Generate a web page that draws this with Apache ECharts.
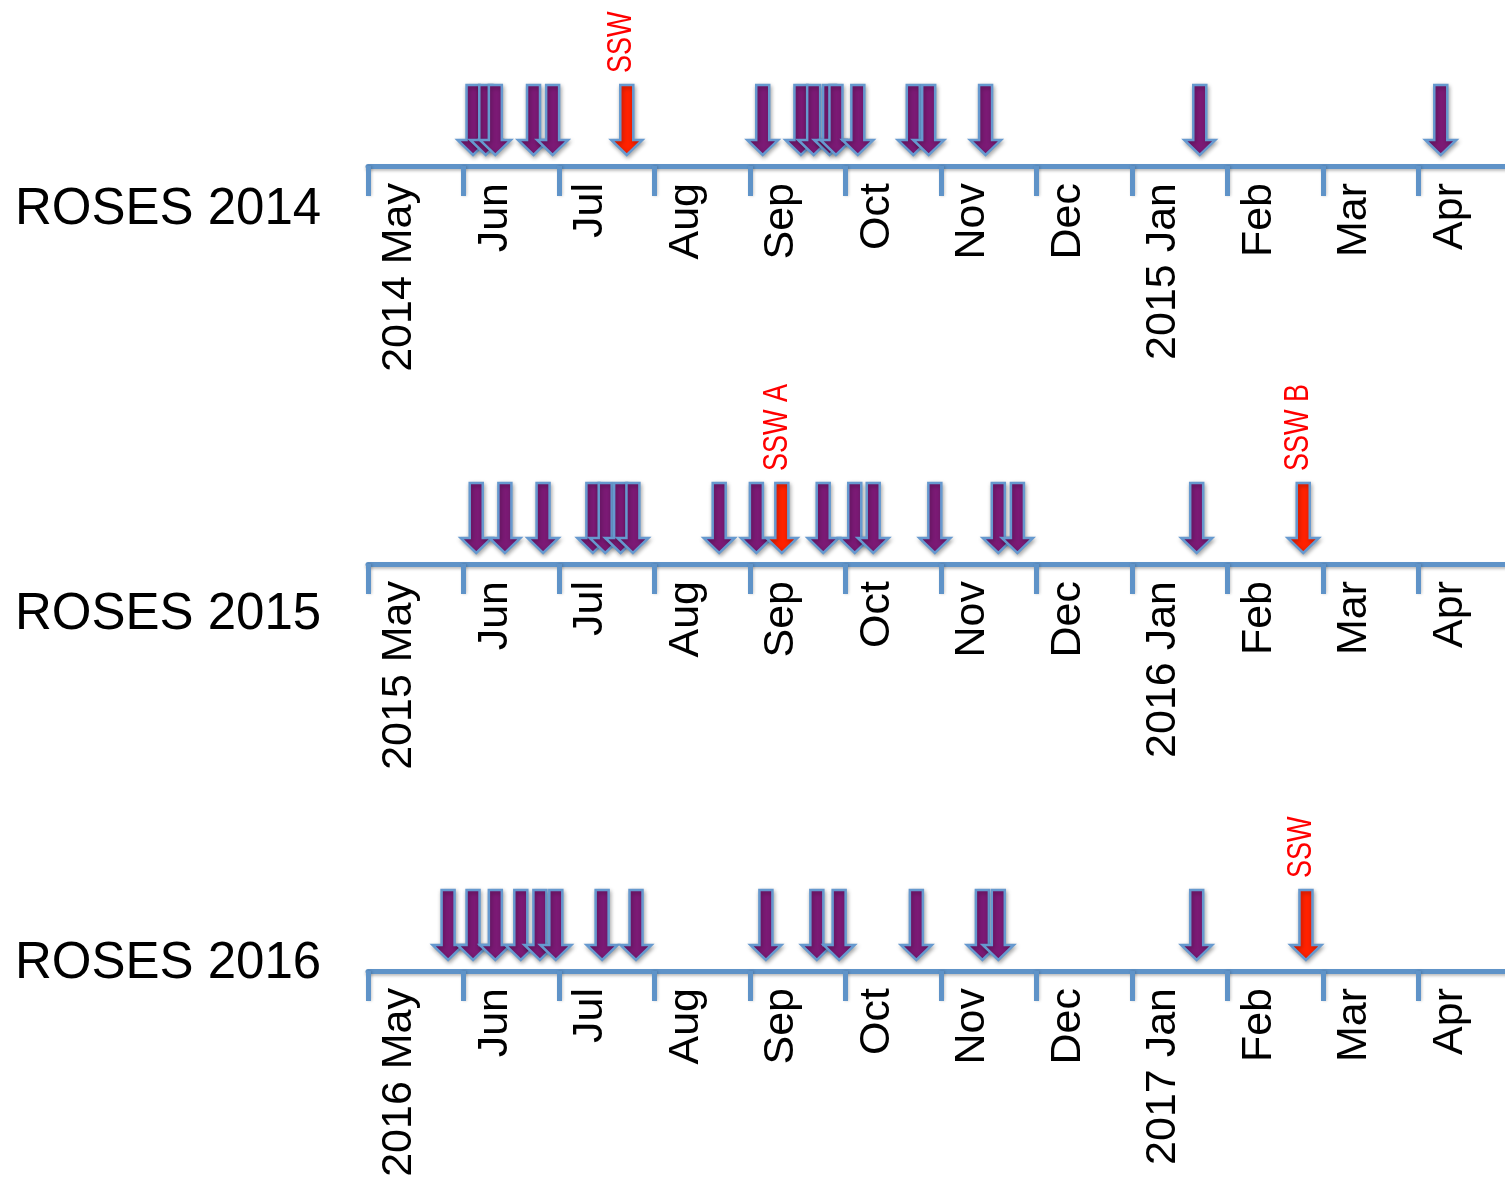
<!DOCTYPE html>
<html>
<head>
<meta charset="utf-8">
<script src="https://cdn.jsdelivr.net/npm/echarts@6/dist/echarts.min.js"></script>
<style>
html,body{margin:0;padding:0;background:#fff;}
#chart{width:1505px;height:1180px;}
</style>
</head>
<body>
<div id="chart"></div>
<script>
// ---- data ----
const rowTitles = ['ROSES 2014', 'ROSES 2015', 'ROSES 2016'];
const startYears = [2014, 2015, 2016];

const monthTicks2014 = ['2014 May', 'Jun', 'Jul', 'Aug', 'Sep', 'Oct', 'Nov', 'Dec', '2015 Jan', 'Feb', 'Mar', 'Apr'];
const monthTicks2015 = ['2015 May', 'Jun', 'Jul', 'Aug', 'Sep', 'Oct', 'Nov', 'Dec', '2016 Jan', 'Feb', 'Mar', 'Apr'];
const monthTicks2016 = ['2016 May', 'Jun', 'Jul', 'Aug', 'Sep', 'Oct', 'Nov', 'Dec', '2017 Jan', 'Feb', 'Mar', 'Apr'];

const events2014 = ['2014-06-04', '2014-06-08', '2014-06-11', '2014-06-23', '2014-06-29',
  '2014-09-05', '2014-09-17', '2014-09-21', '2014-09-26', '2014-09-28', '2014-10-05',
  '2014-10-23', '2014-10-28', '2014-11-15', '2015-01-23', '2015-04-08'];
const ssw2014 = ['2014-07-23'];
const sswLabels2014 = ['SSW'];

const events2015 = ['2015-06-05', '2015-06-14', '2015-06-26', '2015-07-12', '2015-07-16',
  '2015-07-21', '2015-07-25', '2015-08-22', '2015-09-03', '2015-09-24', '2015-10-04',
  '2015-10-10', '2015-10-30', '2015-11-19', '2015-11-25', '2016-01-22'];
const ssw2015 = ['2015-09-11', '2016-02-24'];
const sswLabels2015 = ['SSW A', 'SSW B'];

const events2016 = ['2016-05-27', '2016-06-04', '2016-06-11', '2016-06-19', '2016-06-25',
  '2016-06-30', '2016-07-15', '2016-07-26', '2016-09-06', '2016-09-22', '2016-09-29',
  '2016-10-24', '2016-11-14', '2016-11-19', '2017-01-22'];
const ssw2016 = ['2017-02-24'];
const sswLabels2016 = ['SSW'];

// ---- helpers ----
const rows = [
  {ticks: monthTicks2014, events: events2014, ssw: ssw2014, sswLabels: sswLabels2014},
  {ticks: monthTicks2015, events: events2015, ssw: ssw2015, sswLabels: sswLabels2015},
  {ticks: monthTicks2016, events: events2016, ssw: ssw2016, sswLabels: sswLabels2016}
];
function monthPos(dateStr, startYear) {
  const [y, m, d] = dateStr.split('-').map(Number);
  const days = new Date(y, m, 0).getDate();
  return (y - startYear) * 12 + (m - 5) + (d - 1) / days;
}

const axisY = [166, 564, 971];
const GRID_H = 100;
const AXIS_COLOR = '#5F93C8';
const FONT = 'Liberation Sans';

const grids = [], xAxes = [], yAxes = [], series = [], graphics = [];
rows.forEach((row, i) => {
  const sy = startYears[i];
  grids.push({left: 368, top: axisY[i] - GRID_H, width: 1146, height: GRID_H,
    containLabel: false, outerBoundsMode: 'none'});
  xAxes.push({
    type: 'value', gridIndex: i, min: 0, max: 12, interval: 1,
    splitLine: {show: false},
    axisLine: {show: true, lineStyle: {color: AXIS_COLOR, width: 5,
      shadowColor: 'rgba(0,0,0,0.25)', shadowBlur: 3, shadowOffsetY: 2}},
    axisTick: {show: true, length: 30, lineStyle: {color: AXIS_COLOR, width: 5,
      shadowColor: 'rgba(0,0,0,0.2)', shadowBlur: 3, shadowOffsetX: 1}},
    axisLabel: {
      show: true, rotate: 90, margin: 17, hideOverlap: false,
      align: 'right', verticalAlign: 'top', padding: [10, 0, 0, 0],
      fontFamily: FONT, fontSize: 43, color: '#000',
      formatter: (v) => {
        const k = Math.round(v);
        return (Math.abs(v - k) < 1e-6 && k < row.ticks.length) ? row.ticks[k] : '';
      }
    }
  });
  yAxes.push({type: 'value', gridIndex: i, min: 0, max: 1, show: false});

  const items = [];
  row.events.forEach(d => items.push({pos: monthPos(d, sy), red: 0, label: ''}));
  row.ssw.forEach((d, j) => items.push({pos: monthPos(d, sy), red: 1, label: row.sswLabels[j]}));
  items.sort((a, b) => a.pos - b.pos);
  const labels = items.map(it => it.label);

  series.push({
    type: 'custom', xAxisIndex: i, yAxisIndex: i, clip: false,
    data: items.map(it => [it.pos, it.red]),
    renderItem: function (params, api) {
      const p = api.coord([api.value(0), 0]);
      const cx = p[0];
      const tipY = p[1] - 11;
      const topY = tipY - 70;
      const sw = 6.5, hw = 15.5, hh = 15;
      const red = api.value(1) === 1;
      const children = [{
        type: 'polygon',
        shape: {points: [[cx - sw, topY], [cx + sw, topY], [cx + sw, tipY - hh], [cx + hw, tipY - hh],
          [cx, tipY], [cx - hw, tipY - hh], [cx - sw, tipY - hh]]},
        style: {fill: red ? '#FF2200' : '#7B1A75', stroke: '#6699CF', lineWidth: 2.5,
          lineJoin: 'miter', shadowColor: 'rgba(0,0,0,0.3)', shadowBlur: 4, shadowOffsetX: 1, shadowOffsetY: 2}
      }];
      const lab = labels[params.dataIndex];
      if (lab) {
        children.push({
          type: 'text', x: cx - 5, y: topY - 12, rotation: Math.PI / 2, scaleY: 1.3,
          style: {text: lab, fill: '#FF0000', fontSize: 27, fontFamily: FONT,
            align: 'left', verticalAlign: 'middle'}
        });
      }
      return {type: 'group', children: children};
    }
  });
});

const titleY = [210, 615, 964];
rowTitles.forEach((t, i) => {
  graphics.push({type: 'text', x: 15, y: titleY[i],
    style: {text: t, fill: '#000', fontSize: 51, fontFamily: FONT, align: 'left', verticalAlign: 'middle'}});
});

const chart = echarts.init(document.getElementById('chart'), null, {renderer: 'canvas'});
chart.setOption({
  backgroundColor: '#ffffff',
  animation: false,
  grid: grids, xAxis: xAxes, yAxis: yAxes, series: series, graphic: graphics
});
</script>
</body>
</html>
